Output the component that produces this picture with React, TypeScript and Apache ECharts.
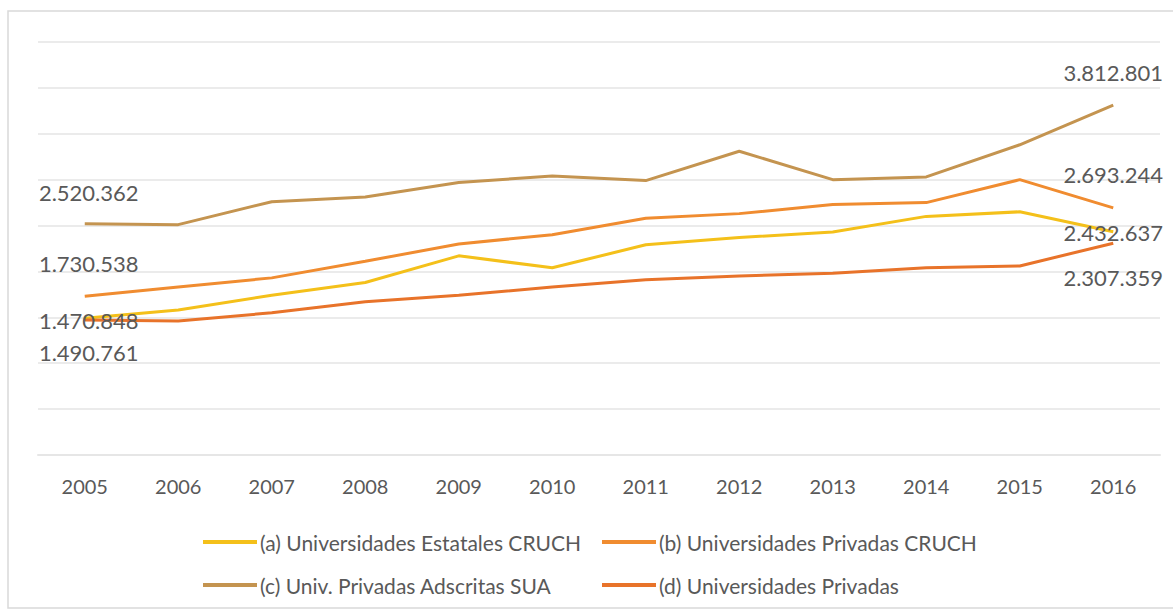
import React, { useEffect, useRef } from "react";
import * as echarts from "echarts";

const years = ["2005", "2006", "2007", "2008", "2009", "2010", "2011", "2012", "2013", "2014", "2015", "2016"];

const nameA = "(a) Universidades Estatales CRUCH";
const nameB = "(b) Universidades Privadas CRUCH";
const nameC = "(c) Univ. Privadas Adscritas SUA";
const nameD = "(d) Universidades Privadas";

const valuesA = [1490761, 1580000, 1740000, 1880000, 2170000, 2040000, 2290000, 2370000, 2430000, 2600000, 2650000, 2432637];
const valuesB = [1730538, 1830000, 1930000, 2110000, 2300000, 2400000, 2580000, 2630000, 2730000, 2750000, 3000000, 2693244];
const valuesC = [2520362, 2510000, 2760000, 2810000, 2970000, 3040000, 2990000, 3310000, 3000000, 3030000, 3380000, 3812801];
const valuesD = [1470848, 1460000, 1550000, 1670000, 1740000, 1830000, 1910000, 1950000, 1980000, 2040000, 2060000, 2307359];

const colorA = "#F4C01A";
const colorB = "#F08C30";
const colorC = "#C49450";
const colorD = "#E8732A";

const textColor = "#595959";
const font = "Lato";

const fmt = (v: number) => String(Math.round(v)).replace(/\B(?=(\d{3})+(?!\d))/g, ".");

function withEndLabels(values: number[], firstOffset: number[], lastOffset: number[]) {
  return values.map((v, i) => {
    if (i === 0 || i === values.length - 1) {
      return {
        value: v,
        label: {
          show: true,
          position: "inside",
          offset: i === 0 ? firstOffset : lastOffset,
          formatter: (p: any) => fmt(p.value),
          color: textColor,
          fontFamily: font,
          fontSize: 22,
        },
      };
    }
    return v;
  });
}

function makeSeries(name: string, values: number[], color: string, o1: number[], o2: number[]) {
  return {
    name,
    type: "line",
    data: withEndLabels(values, o1, o2),
    symbol: "circle",
    symbolSize: 0.01,
    showSymbol: true,
    lineStyle: { color, width: 3 },
    itemStyle: { color },
    label: { show: false },
    emphasis: { disabled: true },
  };
}

export default function App() {
  const ref = useRef<HTMLDivElement>(null);
  useEffect(() => {
    if (!ref.current) return;
    const chart = echarts.init(ref.current, null, { renderer: "svg" });
    const legendBase = {
      orient: "vertical",
      top: 525,
      itemWidth: 54,
      itemHeight: 4,
      itemGap: 19,
      icon: "rect",
      textStyle: { color: textColor, fontFamily: font, fontSize: 21, lineHeight: 24, padding: [0, 0, 0, -2] },
    };
    chart.setOption({
      animation: false,
      backgroundColor: "#ffffff",
      textStyle: { fontFamily: font },
      graphic: [
        {
          type: "rect",
          shape: { x: 8, y: 11, width: 1200, height: 597 },
          style: { fill: "none", stroke: "#D9D9D9", lineWidth: 1.5 },
          silent: true,
        },
      ],
      grid: { left: 38, right: 13, top: 42, height: 413, containLabel: false },
      xAxis: {
        type: "category",
        data: years,
        boundaryGap: true,
        axisLine: { show: true, lineStyle: { color: "#E6E6E6", width: 2 } },
        axisTick: { show: false },
        axisLabel: { color: textColor, fontFamily: font, fontSize: 20, margin: 21 },
      },
      yAxis: {
        type: "value",
        min: 0,
        max: 4500000,
        interval: 500000,
        axisLabel: { show: false },
        axisLine: { show: false },
        axisTick: { show: false },
        splitLine: { lineStyle: { color: "#EBEBEB", width: 2 } },
      },
      legend: [
        { ...legendBase, left: 198, data: [nameA, nameC] },
        { ...legendBase, left: 597, data: [nameB, nameD] },
      ],
      series: [
        makeSeries(nameA, valuesA, colorA, [4, 34], [0, 1]),
        makeSeries(nameB, valuesB, colorB, [4, -33], [0, -33]),
        makeSeries(nameC, valuesC, colorC, [4, -31], [0, -32.5]),
        makeSeries(nameD, valuesD, colorD, [4, 0], [0, 34]),
      ],
    });
    return () => chart.dispose();
  }, []);
  return (
    <div
      ref={ref}
      style={{ position: "fixed", left: 0, top: 0, width: 1173, height: 614 }}
    />
  );
}
